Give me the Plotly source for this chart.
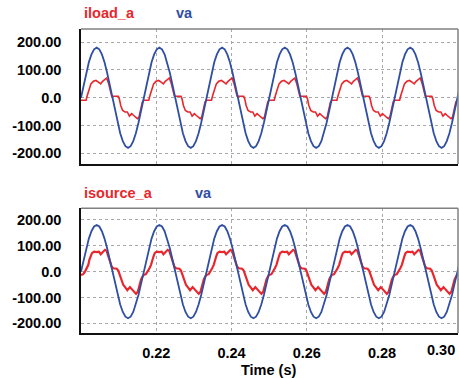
import plotly.graph_objects as go

# ---- data ----
T_START = 0.2          # s
FREQ = 60.0            # Hz (period read as ~16.7 ms)
N_CYCLES = 7

# va : one cycle, sampled every 15 degrees (peak ~180 V)
VA_DEG = [0, 15, 30, 45, 60, 75, 90, 105, 120, 135, 150, 165,
          180, 195, 210, 225, 240, 255, 270, 285, 300, 315, 330, 345]
VA_VAL = [0.0, 46.6, 90.0, 127.3, 155.9, 173.9, 180.0, 173.9, 155.9, 127.3, 90.0, 46.6,
          0.0, -46.6, -90.0, -127.3, -155.9, -173.9, -180.0, -173.9, -155.9, -127.3, -90.0, -46.6]

# iload_a : one cycle (phase in degrees of va, value)
ILOAD_DEG = [0, 29, 36, 48, 57, 71, 86, 100, 113, 124, 138, 147, 159, 167, 176,
             214, 220, 228, 239, 253, 266, 278, 291, 301, 312, 324, 333, 343, 352]
ILOAD_VAL = [-9, -9, 8, 38, 50, 59, 62, 56, 50, 59, 68, 71, 50, 26, 6,
             5, -4, -28, -46, -51, -51, -66, -57, -63, -70, -75, -70, -40, -16]

# isource_a : one cycle (phase in degrees of va, value)
ISRC_DEG = [0, 13, 23, 33, 42, 48, 56, 63, 75, 90, 103, 113, 124, 138, 147, 157, 167, 176,
            186, 205, 214, 224, 234, 243, 253, 266, 281, 291, 304, 316, 326, 335, 345, 354]
ISRC_VAL = [-13, -10, 0, 13, 26, 45, 58, 71, 77, 75, 77, 67, 75, 84, 80, 58, 39, 19,
            13, 11, 4, -13, -32, -52, -60, -72, -60, -68, -80, -86, -78, -50, -30, -18]

X_TICKS = [0.22, 0.24, 0.26, 0.28, 0.30]
X_TICKTEXT = ["0.22", "0.24", "0.26", "0.28", ""]
X_LAST_LABEL = "0.30"
Y_TICKS = [200, 100, 0, -100, -200]
Y_TICKTEXT = ["200.00", "100.00", "0.0", "-100.00", "-200.00"]


def periodic(deg, val):
    t, v = [], []
    for k in range(N_CYCLES):
        for d, y in zip(deg, val):
            t.append(T_START + (k + d / 360.0) / FREQ)
            v.append(y)
    return t, v


t_va, va = periodic(VA_DEG, VA_VAL)
t_il, il = periodic(ILOAD_DEG, ILOAD_VAL)
t_is, isrc = periodic(ISRC_DEG, ISRC_VAL)

RED = "#e8262c"
BLUE = "#2f4fa2"
FONT = "Liberation Sans, Arial, sans-serif"

fig = go.Figure()
fig.add_trace(go.Scatter(x=t_il, y=il, mode="lines", line=dict(color=RED, width=1.6),
                         xaxis="x", yaxis="y"))
fig.add_trace(go.Scatter(x=t_va, y=va, mode="lines", line=dict(color=BLUE, width=1.8),
                         xaxis="x", yaxis="y"))
fig.add_trace(go.Scatter(x=t_is, y=isrc, mode="lines", line=dict(color=RED, width=2.2),
                         xaxis="x2", yaxis="y2"))
fig.add_trace(go.Scatter(x=t_va, y=va, mode="lines", line=dict(color=BLUE, width=1.8),
                         xaxis="x2", yaxis="y2"))

tickfont = dict(family=FONT, size=14.5, color="black", weight="bold")
common_x = dict(range=[0.2, 0.3002], tickvals=X_TICKS, ticktext=X_TICKTEXT,
                showgrid=True, gridcolor="#a8a8a8", griddash="dot", gridwidth=1,
                zeroline=False, showline=True, linecolor="#111111", linewidth=1.5,
                ticks="", tickfont=tickfont, ticklabelstandoff=6)
common_y = dict(tickvals=Y_TICKS, ticktext=Y_TICKTEXT,
                showgrid=True, gridcolor="#a8a8a8", griddash="dot", gridwidth=1,
                zeroline=False, showline=True, linecolor="#111111", linewidth=1.5,
                ticks="", tickfont=tickfont, ticklabelstandoff=15)

fig.update_layout(
    width=459, height=378,
    margin=dict(l=81, r=1, t=29, b=45),
    paper_bgcolor="white", plot_bgcolor="white",
    showlegend=False,
    xaxis=dict(common_x, domain=[0, 1], anchor="y", showticklabels=False),
    yaxis=dict(common_y, domain=[0.556, 1], anchor="x", range=[-238, 247]),
    xaxis2=dict(common_x, domain=[0, 1], anchor="y2"),
    yaxis2=dict(common_y, domain=[0, 0.410], anchor="x2", range=[-237, 244]),
)

# top / right frame edges (gray)
for xr, yr in (("x domain", "y domain"), ("x2 domain", "y2 domain")):
    fig.add_shape(type="line", xref=xr, yref=yr, x0=0, x1=1, y0=1, y1=1,
                  line=dict(color="#808080", width=1.5))
    fig.add_shape(type="line", xref=xr, yref=yr, x0=1, x1=1, y0=0, y1=1,
                  line=dict(color="#808080", width=1.5))

# last x tick label sits right-aligned at the plot edge
fig.add_annotation(text=X_LAST_LABEL, x=X_TICKS[-1], y=-0.135, xref="x2", yref="y2 domain",
                   xanchor="right", yanchor="middle", showarrow=False, font=tickfont)

labfont = dict(family=FONT, size=14.5, weight="bold")
anns = [
    ("iload_a", 0.0027, 1.0526, RED),
    ("va", 0.2467, 1.0526, BLUE),
    ("isource_a", 0.0027, 0.4615, RED),
    ("va", 0.297, 0.4615, BLUE),
]
for text, x, y, col in anns:
    fig.add_annotation(text=text, x=x, y=y, xref="paper", yref="paper",
                       xanchor="left", yanchor="middle", showarrow=False,
                       font=dict(labfont, color=col))
fig.add_annotation(text="Time (s)", x=0.4987, y=-0.1217, xref="paper", yref="paper",
                   xanchor="center", yanchor="middle", showarrow=False,
                   font=dict(labfont, color="black"))

fig.write_html("out.html")
